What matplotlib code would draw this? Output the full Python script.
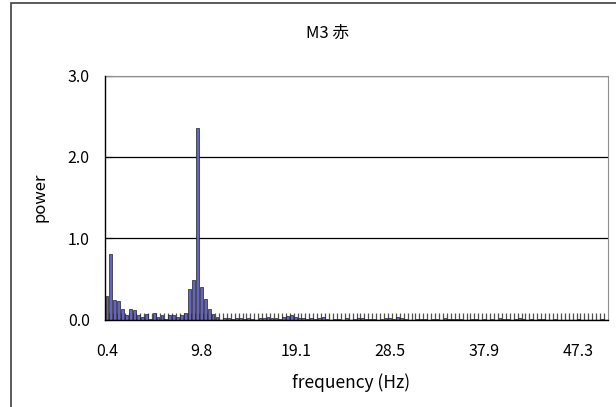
import matplotlib.pyplot as plt
from matplotlib.patches import Rectangle

plt.rcParams['font.family'] = ['Noto Sans CJK JP', 'DejaVu Sans']

# 128 周波数ビン (0.39 Hz 間隔)
freq = [round(0.390625 * (i + 1), 1) for i in range(128)]
power = [0.29, 0.81, 0.24, 0.225, 0.135, 0.05, 0.135, 0.115, 0.05, 0.03,
         0.065, 0.01, 0.075, 0.03, 0.06, 0.01, 0.06, 0.06, 0.03, 0.05,
         0.075, 0.37, 0.49, 2.36, 0.40, 0.25, 0.135, 0.065, 0.03, 0.0,
         0.02, 0.02, 0.01, 0.02, 0.02, 0.01, 0.02, 0.01, 0.0, 0.02,
         0.02, 0.03, 0.02, 0.02, 0.01, 0.03, 0.04, 0.05, 0.03, 0.02,
         0.02, 0.01, 0.02, 0.01, 0.02, 0.03, 0.01, 0.0, 0.01, 0.01,
         0.0, 0.02, 0.0, 0.01, 0.02, 0.02, 0.01, 0.01, 0.01, 0.0,
         0.01, 0.02, 0.02, 0.01, 0.03, 0.02, 0.01, 0.0, 0.0, 0.01,
         0.01, 0.01, 0.0, 0.01, 0.01, 0.0, 0.02, 0.01, 0.01, 0.01,
         0.01, 0.0, 0.0, 0.01, 0.01, 0.0, 0.01, 0.0, 0.01, 0.0,
         0.02, 0.01, 0.01, 0.0, 0.01, 0.02, 0.01, 0.0, 0.01, 0.0,
         0.01, 0.01, 0.0, 0.0, 0.01, 0.0, 0.0, 0.0, 0.0, 0.0,
         0.01, 0.0, 0.0, 0.0, 0.0, 0.0, 0.01, 0.0]
label_step = 24
y_ticks = [0, 1, 2, 3]

fig = plt.figure(figsize=(6.16, 4.07), dpi=100)
ax = fig.add_axes([105 / 616, 1 - 319.5 / 407, 503 / 616, 244 / 407])

x = list(range(len(power)))
ax.bar(x, power, width=0.72, color='#6464c8', edgecolor='#202020', linewidth=0.5, zorder=3)

ax.set_xlim(-0.5, len(power) - 0.5)
ax.set_ylim(0, 3)
ax.set_yticks(y_ticks)
ax.set_yticklabels(['%.1f' % v for v in y_ticks], fontsize=11.5)
pos = x[::label_step]
ax.set_xticks(pos)
ax.set_xticklabels(['%.1f' % freq[i] for i in pos], fontsize=11.5)
ax.set_xticks([i + 0.5 for i in x[:-1]], minor=True)
ax.tick_params(axis='x', which='major', length=0, pad=17)
ax.tick_params(axis='x', which='minor', direction='in', length=5, width=0.9, color='#505050')
ax.tick_params(axis='y', direction='in', length=5, width=0.8, pad=11)
ax.grid(axis='y', color='black', linewidth=0.9, zorder=1)

for s in ['top', 'right']:
    ax.spines[s].set_color('#909090')
for s in ['left', 'bottom']:
    ax.spines[s].set_color('black')
    ax.spines[s].set_linewidth(1.0)
ax.spines['left'].set_zorder(4)
ax.spines['bottom'].set_zorder(4)

fig.text(327 / 616, 1 - 33 / 407, 'M3 赤', ha='center', va='center', fontsize=12)
fig.text(351 / 616, 1 - 383 / 407, 'frequency (Hz)', ha='center', va='center', fontsize=12.5)
fig.text(40 / 616, 1 - 197 / 407, 'power', ha='center', va='center', rotation=90, fontsize=12)

# グラフエリアの外枠
fig.patches.append(Rectangle((11 / 616, -0.1), 1.2, 1 - 3 / 407 + 0.1,
                             transform=fig.transFigure, fill=False,
                             edgecolor='#404040', linewidth=1.2))

fig.savefig('out.png', dpi=100)
